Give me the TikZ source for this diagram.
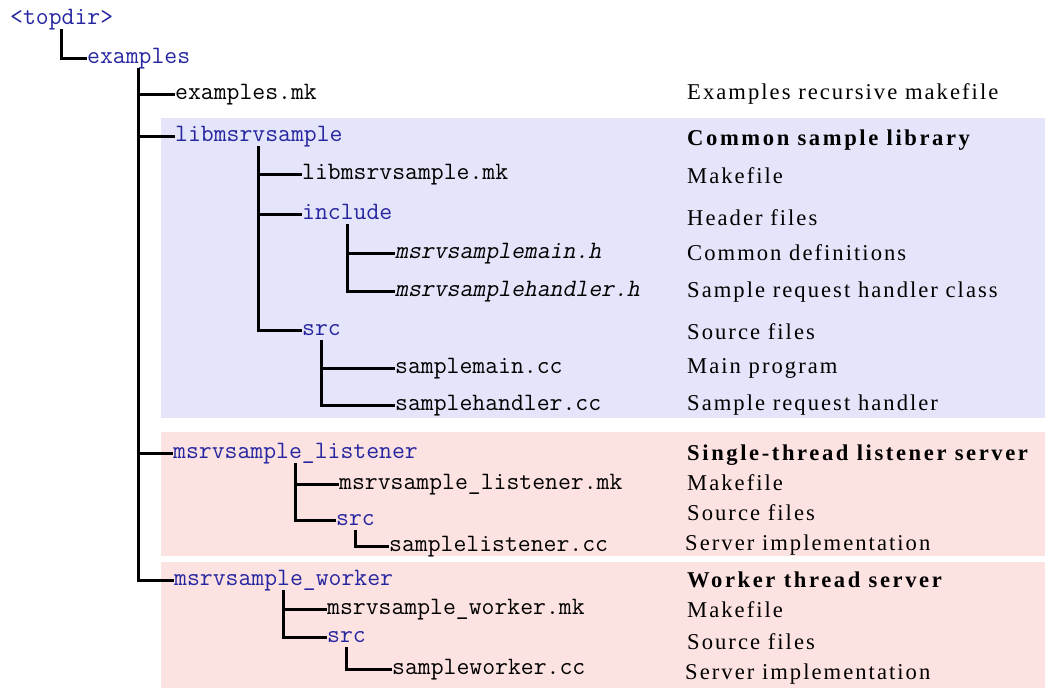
\documentclass[tikz,border=0pt]{standalone}
\usepackage{fontspec}
\newfontfamily\monofont{Latin Modern Mono}
\newfontfamily\slantmono[FakeSlant=0.2]{Latin Modern Mono}
\newfontfamily\descfont[LetterSpace=9]{Liberation Serif}
\newfontfamily\headfont[LetterSpace=11.5]{Liberation Serif}
\definecolor{dirblue}{RGB}{38,38,160}
\definecolor{libband}{RGB}{228,228,250}
\definecolor{srvband}{RGB}{253,226,226}
\tikzset{
  mono/.style={font=\monofont\fontsize{25}{28}\selectfont, inner sep=0pt,
    anchor=west, text height=15pt, text depth=5pt},
  dir/.style={mono, text=dirblue},
  hfile/.style={mono, font=\slantmono\fontsize{25}{28}\selectfont},
  desc/.style={font=\descfont\fontsize{22.6}{26}\selectfont, inner sep=0pt,
    anchor=west, text height=15pt, text depth=0pt},
  head/.style={desc, font=\headfont\bfseries\fontsize{22.6}{26}\selectfont},
  tree/.style={draw=black, line width=3pt}
}
\begin{document}
\begin{tikzpicture}[x=1pt, y=-1pt]
  \useasboundingbox (0,0) rectangle (1045,688);

  % coloured bands behind each sub-project
  \fill[libband] (161,118) rectangle (1045,418);
  \fill[srvband] (161,432) rectangle (1045,556);
  \fill[srvband] (161,562) rectangle (1045,688);

  % directory tree
  \node[dir]   (topdir)   at (10,19)  {<topdir>};
  \node[dir]   (examples) at (87,58)  {examples};
  \node[mono]  (exmk)     at (175,94) {examples.mk};
  \node[dir]   (lib)      at (175,136) {libmsrvsample};
  \node[mono]  (libmk)    at (302,174) {libmsrvsample.mk};
  \node[dir]   (inc)      at (302,214) {include};
  \node[hfile] (mainh)    at (395,253) {msrvsamplemain.h};
  \node[hfile] (handlerh) at (395,291) {msrvsamplehandler.h};
  \node[dir]   (libsrc)   at (302,330) {src};
  \node[mono]  (maincc)   at (395,368) {samplemain.cc};
  \node[mono]  (handlercc) at (395,405) {samplehandler.cc};
  \node[dir]   (lis)      at (173,453) {msrvsample\_listener};
  \node[mono]  (lismk)    at (339,484) {msrvsample\_listener.mk};
  \node[dir]   (lissrc)   at (336,520) {src};
  \node[mono]  (liscc)    at (389,546) {samplelistener.cc};
  \node[dir]   (wrk)      at (174,580) {msrvsample\_worker};
  \node[mono]  (wrkmk)    at (327,609) {msrvsample\_worker.mk};
  \node[dir]   (wrksrc)   at (327,637) {src};
  \node[mono]  (wrkcc)    at (392,669) {sampleworker.cc};

  % tree connectors
  \draw[tree] (topdir.south) |- (examples.west);
  \foreach \c in {exmk, lib, lis, wrk}
    \draw[tree] (examples.south) |- (\c.west);
  \foreach \c in {libmk, inc, libsrc}
    \draw[tree] (lib.south) |- (\c.west);
  \foreach \c in {mainh, handlerh}
    \draw[tree] (inc.south) |- (\c.west);
  \foreach \c in {maincc, handlercc}
    \draw[tree] (libsrc.south) |- (\c.west);
  \foreach \c in {lismk, lissrc}
    \draw[tree] (lis.south) |- (\c.west);
  \draw[tree] (lissrc.south) |- (liscc.west);
  \foreach \c in {wrkmk, wrksrc}
    \draw[tree] (wrk.south) |- (\c.west);
  \draw[tree] (wrksrc.south) |- (wrkcc.west);

  % descriptions
  \node[desc] (d1)  at (687,92)  {Examples recursive makefile};
  \node[head] (d2)  at (687,138) {Common sample library};
  \node[desc] (d3)  at (687,176) {Makefile};
  \node[desc] (d4)  at (687,218) {Header files};
  \node[desc] (d5)  at (687,253) {Common definitions};
  \node[desc] (d6)  at (687,290) {Sample request handler class};
  \node[desc] (d7)  at (687,332) {Source files};
  \node[desc] (d8)  at (687,366) {Main program};
  \node[desc] (d9)  at (687,403) {Sample request handler};
  \node[head] (d10) at (687,453) {Single-thread listener server};
  \node[desc] (d11) at (687,483) {Makefile};
  \node[desc] (d12) at (687,513) {Source files};
  \node[desc] (d13) at (685,543) {Server implementation};
  \node[head] (d14) at (687,580) {Worker thread server};
  \node[desc] (d15) at (687,610) {Makefile};
  \node[desc] (d16) at (687,642) {Source files};
  \node[desc] (d17) at (685,672) {Server implementation};
\end{tikzpicture}
\end{document}
